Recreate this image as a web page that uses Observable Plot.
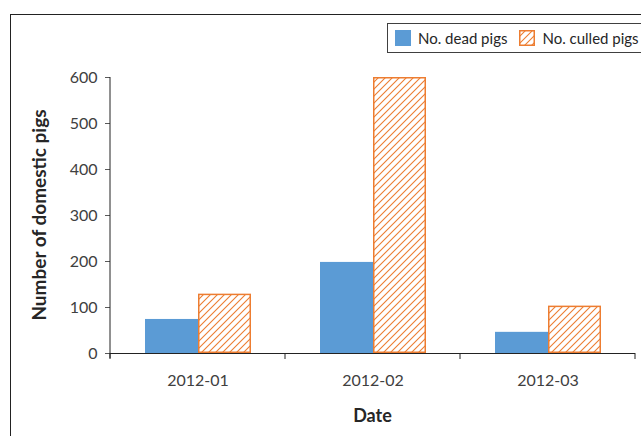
<!DOCTYPE html>
<html><head><meta charset="utf-8">
<script src="https://cdn.jsdelivr.net/npm/d3@7"></script>
<script src="https://cdn.jsdelivr.net/npm/@observablehq/plot@0.6"></script>
<style>
body{margin:0;background:#fff;font-family:Lato,sans-serif;}
#wrap{position:relative;width:641px;height:436px;overflow:hidden;background:#fff;}
#frame{position:absolute;left:10px;top:14px;width:700px;height:500px;border:1px solid #222;box-sizing:border-box;}
#chart{position:absolute;left:0;top:0;}
#legend{position:absolute;left:387px;top:23px;width:300px;height:30px;border:1px solid #404040;box-sizing:border-box;display:flex;align-items:center;font-size:15px;color:#262626;background:#fff;}
#legend .item{display:flex;align-items:center;margin-left:7px;}
#legend .item + .item{margin-left:12px;}
#legend svg{margin-right:7px;}
</style>
</head><body>
<div id="wrap"><div id="frame"></div><div id="chart"></div><div id="legend"></div></div>
<script>
const dates = ["2012-01", "2012-02", "2012-03"];
const seriesNames = ["No. dead pigs", "No. culled pigs"];
const deadPigs = [74, 198, 46];
const culledPigs = [129, 600, 103];
const yTicks = [0, 100, 200, 300, 400, 500, 600];
const blue = "#5B9BD5", orange = "#ED7D31";

const rows = [];
dates.forEach((d, i) => {
  rows.push({date: d, series: seriesNames[0], value: deadPigs[i]});
  rows.push({date: d, series: seriesNames[1], value: culledPigs[i]});
});

const plot = Plot.plot({
  width: 641, height: 436,
  marginLeft: 109, marginRight: 5, marginTop: 77, marginBottom: 83,
  style: {fontFamily: "Lato, sans-serif", fontSize: "16px", color: "#404040", background: "transparent", overflow: "visible"},
  fx: {domain: dates, paddingInner: 0, paddingOuter: 0, label: null},
  x: {domain: seriesNames, paddingInner: 0, paddingOuter: 0.64, axis: null},
  y: {domain: [0, 600], label: null, axis: null},
  marks: [
    Plot.barY(rows.filter(r => r.series === seriesNames[0]), {fx: "date", x: "series", y: "value", fill: blue}),
    Plot.barY(rows.filter(r => r.series === seriesNames[1]), {fx: "date", x: "series", y: "value", fill: "url(#hatch)", stroke: orange, strokeWidth: 1.5, inset: 0.75}),
    Plot.axisY({ticks: yTicks, tickSize: 5, tickPadding: 8, tickFormat: d => String(d), label: null, stroke: "#595959", fill: "#404040"}),
    Plot.axisFx({anchor: "bottom", tickSize: 0, tickPadding: 21, label: null, fill: "#404040"}),
    Plot.ruleY([0], {stroke: "#222", strokeWidth: 1})
  ]
});

const svg = d3.select(plot);
svg.insert("defs", ":first-child").html(
  `<pattern id="hatch" patternUnits="userSpaceOnUse" width="7" height="7">
     <rect width="7" height="7" fill="#fff"/>
     <path d="M-1,1 l2,-2 M0,7 l7,-7 M6,8 l2,-2" stroke="${orange}" stroke-width="1.1"/>
   </pattern>`);

const fx = plot.scale("fx"), y = plot.scale("y");
const y0 = y.apply(0), yTop = y.apply(600);
const left = fx.apply(dates[0]);
const g = svg.append("g").attr("stroke", "#222").attr("stroke-width", 1);
// y axis line
g.append("line").attr("x1", left).attr("x2", left).attr("y1", yTop).attr("y2", y0 + 5);
// category boundary ticks
const bounds = dates.map(d => fx.apply(d)).concat([fx.apply(dates[dates.length - 1]) + fx.bandwidth]);
bounds.forEach(b => g.append("line").attr("x1", b).attr("x2", b).attr("y1", y0).attr("y2", y0 + 6));

// axis titles
svg.append("text").text("Date")
  .attr("x", (bounds[0] + bounds[bounds.length - 1]) / 2).attr("y", y0 + 69)
  .attr("text-anchor", "middle").attr("font-weight", "bold").attr("font-size", 18).attr("fill", "#262626");
svg.append("text").text("Number of domestic pigs")
  .attr("transform", `translate(46,${(y0 + yTop) / 2}) rotate(-90)`)
  .attr("text-anchor", "middle").attr("font-weight", "bold").attr("font-size", 19).attr("fill", "#262626");

document.getElementById("chart").appendChild(plot);

// legend
const legend = d3.select("#legend");
seriesNames.forEach((name, i) => {
  const item = legend.append("div").attr("class", "item");
  const sw = item.append("svg").attr("width", 16).attr("height", 16);
  if (i === 0) {
    sw.append("rect").attr("width", 16).attr("height", 16).attr("fill", blue);
  } else {
    sw.append("defs").html(`<pattern id="hatchL" patternUnits="userSpaceOnUse" width="7" height="7"><path d="M-1,1 l2,-2 M0,7 l7,-7 M6,8 l2,-2" stroke="${orange}" stroke-width="1.1"/></pattern>`);
    sw.append("rect").attr("x", 0.75).attr("y", 0.75).attr("width", 14.5).attr("height", 14.5)
      .attr("fill", "url(#hatchL)").attr("stroke", orange).attr("stroke-width", 1.5);
  }
  item.append("span").text(name);
});
</script>
</body></html>
